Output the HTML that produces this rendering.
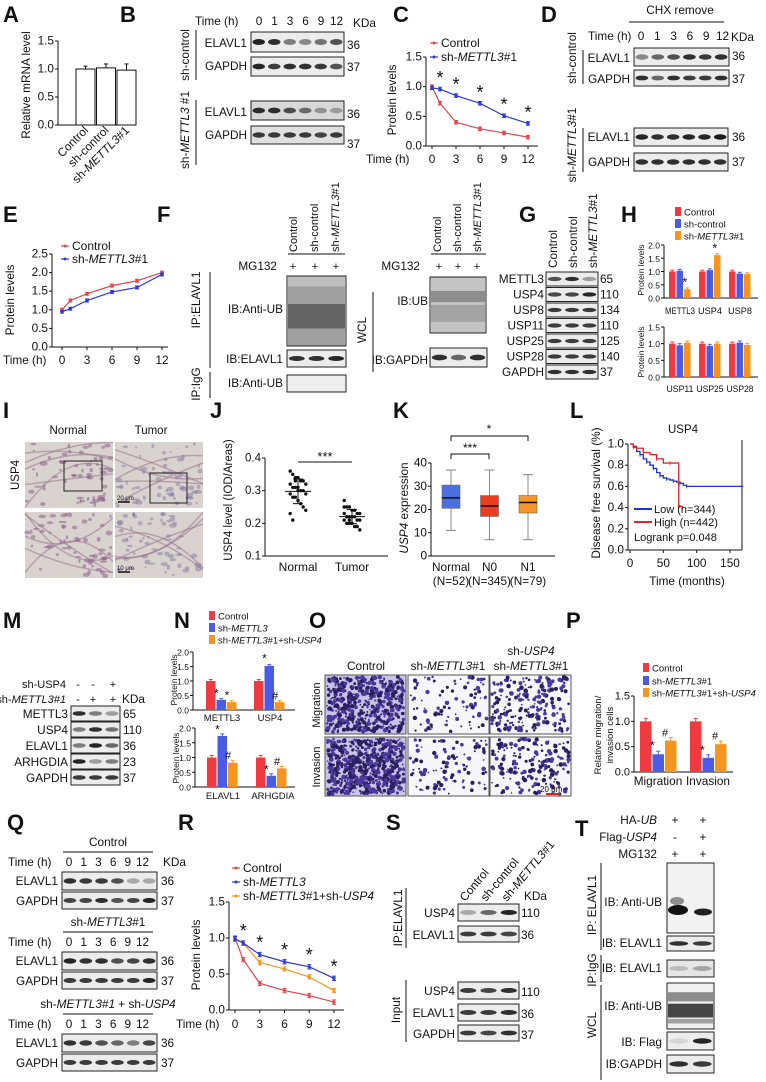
<!DOCTYPE html>
<html><head><meta charset="utf-8"><style>
html,body{margin:0;padding:0;background:#fff;}
svg{display:block;font-family:"Liberation Sans",Arial,sans-serif;}
</style></head><body>
<svg id="fig" width="766" height="1082" viewBox="0 0 766 1082" xmlns="http://www.w3.org/2000/svg"></svg>
<script>
// ---------- DATA ----------
const A_cats=['Control','sh-control','sh-METTL3#1'];
const A_vals=[1.0,1.02,0.98];
const A_errs=[0.05,0.07,0.11];
const C_times=[0,1,3,6,9,12];
const C_ctrl=[1.0,0.72,0.4,0.29,0.22,0.15];
const C_sh=[0.98,0.96,0.85,0.72,0.51,0.38];
const E_times=[0,1,3,6,9,12];
const E_ctrl=[1.0,1.25,1.43,1.65,1.78,2.0];
const E_sh=[0.95,1.03,1.25,1.48,1.6,1.95];
const H_top_cats=['METTL3','USP4','USP8'];
const H_top_ctrl=[1.0,1.0,1.0];
const H_top_shc=[1.03,1.05,0.92];
const H_top_shm=[0.33,1.62,0.9];
const H_bot_cats=['USP11','USP25','USP28'];
const H_bot_ctrl=[1.0,1.0,1.0];
const H_bot_shc=[0.95,0.93,1.03];
const H_bot_shm=[1.03,1.0,0.96];
const J_normal=[0.36,0.35,0.34,0.34,0.33,0.33,0.32,0.32,0.31,0.31,0.3,0.3,0.3,0.29,0.29,0.28,0.28,0.27,0.26,0.25,0.24,0.23,0.21,0.33,0.31];
const J_tumor=[0.27,0.25,0.25,0.24,0.24,0.23,0.23,0.23,0.22,0.22,0.22,0.22,0.21,0.21,0.21,0.2,0.2,0.2,0.19,0.19,0.18,0.25,0.22,0.21];
const K_cats=['Normal','N0','N1'];
const K_ns=['(N=52)','(N=345)','(N=79)'];
const K_min=[11,7,7];
const K_q1=[20.5,17,18.5];
const K_med=[25,21.5,23];
const K_q3=[30.5,26,26];
const K_max=[37,37,35];
const L_low_t=[0,5,10,15,20,25,30,35,40,45,50,55,60,65,70,75,80,85,170];
const L_low_s=[1,0.97,0.93,0.9,0.86,0.83,0.8,0.77,0.73,0.7,0.68,0.67,0.66,0.65,0.64,0.63,0.61,0.6,0.6];
const L_high_t=[0,5,10,20,30,40,50,60,73,73,80];
const L_high_s=[1,0.98,0.96,0.92,0.9,0.86,0.82,0.82,0.82,0.41,0.41];
const N_top_cats=['METTL3','USP4'];
const N_top_ctrl=[1.0,1.0];
const N_top_sh=[0.35,1.52];
const N_top_shu=[0.27,0.27];
const N_bot_cats=['ELAVL1','ARHGDIA'];
const N_bot_ctrl=[1.0,1.0];
const N_bot_sh=[1.73,0.38];
const N_bot_shu=[0.82,0.63];
const P_cats=['Migration','Invasion'];
const P_ctrl=[1.0,1.0];
const P_sh=[0.35,0.28];
const P_shu=[0.62,0.55];
const R_times=[0,1,3,6,9,12];
const R_ctrl=[1.0,0.7,0.37,0.27,0.2,0.11];
const R_sh=[0.99,0.93,0.77,0.67,0.6,0.44];
const R_shu=[0.98,0.93,0.66,0.57,0.46,0.27];

// ---------- HELPERS ----------
const NS='http://www.w3.org/2000/svg';
const S=document.getElementById('fig');
const RED='#ef3a3f',BLUE='#4a5be6',ORG='#f7941d',LRED='#e0474c',LBLUE='#2a3ad0';
function mk(tag,a,name,parent){
  const el=document.createElementNS(NS,tag);
  for(const k in a) el.setAttribute(k,a[k]);
  
  
  (parent||S).appendChild(el);
  return el;
}
const I=t=>'<tspan font-style="italic">'+t+'</tspan>';
function T(x,y,s,fs,anchor,name,rot,weight){
  fs=fs||10;
  if(fs==10.5) fs=11.8; else if(fs==10) fs=11;
  const el=mk('text',{x:x,y:y,'font-size':fs,'text-anchor':anchor||'start',fill:'#111'},name||'label');
  if(weight) el.setAttribute('font-weight',weight);
  el.innerHTML=s;
  if(rot) el.setAttribute('transform','rotate('+rot+' '+x+' '+y+')');
  return el;
}
function L(x1,y1,x2,y2,name,col,w){return mk('line',{x1:x1,y1:y1,x2:x2,y2:y2,stroke:col||'#111','stroke-width':w||1},name||'line');}
function letter(x,y,s){T(x,y,s,22,'start','panel-label-'+s.toLowerCase(),0,'bold');}
function blot(x,y,w,h,ints,name,bg){
  const g=mk('g',{},name);
  mk('rect',{x:x,y:y,width:w,height:h,fill:bg||'#ececec',stroke:'#222','stroke-width':1},name+'-frame',g);
  const n=ints.length;
  ints.forEach((v,i)=>{
    const cx=x+w*(i+0.5)/n;
    mk('ellipse',{cx:cx,cy:y+h/2,rx:w/n*0.4,ry:Math.max(1.6,h*0.15),fill:'rgba(15,15,15,'+v+')'},name+'-band',g);
  });
  return g;
}
function smear(x,y,w,h,name,dark){
  const g=mk('g',{},name);
  mk('rect',{x:x,y:y,width:w,height:h,fill:'#f0f0f0',stroke:'#222'},name+'-frame',g);
  dark.forEach(d=>{mk('rect',{x:x+1,y:y+d[0]*h,width:w-2,height:d[1]*h,fill:'rgba(40,40,40,'+d[2]+')'},name+'-smear',g);});
  return g;
}
function yAxis(x,ticks,sc,fmt,name,fs){
  const g=mk('g',{},name);
  g.appendChild(L(x,sc(ticks[ticks.length-1]),x,sc(ticks[0]),name+'-line'));
  ticks.forEach(t=>{
    g.appendChild(L(x-3,sc(t),x,sc(t),name+'-tick'));
    g.appendChild(T(x-4,sc(t)+3.5,fmt(t),fs||10,'end',name+'-tick-label'));
  });
  return g;
}
function errBar(cx,y1,y2,col,name){L(cx,y1,cx,y2,name,col,1);L(cx-2,y1,cx+2,y1,name,col,1);}
function groupedBars(cats,series,cols,x0,gw,bw,sc,y0,name,errs){
  cats.forEach((c,gi)=>{
    series.forEach((arr,si)=>{
      const bx=x0+gi*gw+si*bw;
      const v=arr[gi];
      mk('rect',{x:bx,y:sc(v),width:bw-1,height:y0-sc(v),fill:cols[si]},name+'-bar-'+c.toLowerCase()+'-'+si);
      const e=errs?errs:0.05;
      errBar(bx+(bw-1)/2,sc(v+e),sc(v),cols[si],name+'-error-bar');
    });
  });
}
function lineSeries(xs,ys,sx,sy,col,name,err){
  const pts=xs.map((t,i)=>sx(t)+','+sy(ys[i])).join(' ');
  mk('polyline',{points:pts,fill:'none',stroke:col,'stroke-width':1.2},name+'-line');
  xs.forEach((t,i)=>{
    mk('circle',{cx:sx(t),cy:sy(ys[i]),r:1.6,fill:col},name+'-point');
    L(sx(t),sy(ys[i]+err),sx(t),sy(ys[i]-err),name+'-error-bar',col,1);
    L(sx(t)-2,sy(ys[i]+err),sx(t)+2,sy(ys[i]+err),name+'-error-cap',col,1);
    L(sx(t)-2,sy(ys[i]-err),sx(t)+2,sy(ys[i]-err),name+'-error-cap',col,1);
  });
}
function legLine(x,y,col,s,name){L(x,y,x+8,y,name+'-swatch',col,1.2);mk('circle',{cx:x+4,cy:y,r:1.5,fill:col},name+'-swatch-dot');T(x+11,y+4,s,12,'start',name);}
function legBox(x,y,col,s,name,fs){mk('rect',{x:x,y:y-5,width:6,height:9,fill:col},name+'-swatch');T(x+9,y+3.5,s,fs||9,'start',name);}
let seed=7;function rnd(){seed=(seed*16807)%2147483647;return seed/2147483647;}

// ================= A =================
letter(3,22,'A');
{const ay=v=>125-v*56;
 yAxis(58,[0,0.5,1.0,1.5],ay,t=>t.toFixed(1),'a-y-axis',10.5);
 L(58,125,136,125,'a-x-axis');
 T(30,85,'Relative mRNA  level',10.5,'middle','a-y-axis-title',-90);
 A_cats.forEach((c,i)=>{
   const bx=76+i*20.5;
   mk('rect',{x:bx,y:ay(A_vals[i]),width:19,height:125-ay(A_vals[i]),fill:'#fff',stroke:'#111'},'a-bar-'+i);
   errBar(bx+9.5,ay(A_vals[i]+A_errs[i]),ay(A_vals[i]),'#111','a-error-bar');
   T(bx+13,131,i==2?'sh-'+I('METTL3')+'#1':c,10.5,'end','a-x-label',-45);
 });}

// ================= B =================
letter(120,22,'B');
T(195,25,'Time (h)',10.5,'start','b-time-label');
['0','1','3','6','9','12'].forEach((s,i)=>T(259+i*15.5,25,s,10.5,'middle','b-lane-label'));
T(353,27,'KDa',10.5,'start','b-kda-label');
T(189,55,'sh-control',10.5,'middle','b-group-sh-control',-90);
L(196,30,196,80,'b-bracket');
T(247,47,'ELAVL1',10.5,'end','b-row-elavl1');
blot(251,32,93,20,[0.9,0.85,0.5,0.45,0.55,0.7],'b-blot-elavl1-ctrl');
T(347,49,'36',10.5,'start','b-kda-36');
T(247,70,'GAPDH',10.5,'end','b-row-gapdh');
blot(251,57,93,19,[0.9,0.8,0.85,0.85,0.8,0.7],'b-blot-gapdh-ctrl');
T(347,71,'37',10.5,'start','b-kda-37');
T(189,130,'sh-'+I('METTL3')+' #1',10.5,'middle','b-group-sh-mettl3',-90);
L(196,100,196,165,'b-bracket-2');
T(247,116,'ELAVL1',10.5,'end','b-row-elavl1-2');
blot(251,101,93,19,[0.85,0.85,0.7,0.55,0.35,0.3],'b-blot-elavl1-sh','#d8d8d8');
T(347,118,'36',10.5,'start','b-kda-36-2');
T(247,139,'GAPDH',10.5,'end','b-row-gapdh-2');
blot(251,126,93,18,[0.8,0.8,0.8,0.8,0.75,0.8],'b-blot-gapdh-sh','#e0e0e0');
T(347,148,'37',10.5,'start','b-kda-37-2');

// ================= C =================
letter(393,22,'C');
{const cx=t=>432+t*8, cy=v=>146-v*(89/1.5);
 yAxis(426,[0,0.5,1.0,1.5],cy,t=>t.toFixed(1),'c-y-axis',10.5);
 L(426,146,538,146,'c-x-axis');
 C_times.filter(t=>t%3==0).forEach(t=>{L(cx(t),146,cx(t),149,'c-x-tick');T(cx(t),163,String(t),10.5,'middle','c-x-tick-label');});
 T(366,163,'Time (h)',10.5,'start','c-x-axis-title');
 T(396,100,'Protein levels',10.5,'middle','c-y-axis-title',-90);
 lineSeries(C_times,C_ctrl,cx,cy,LRED,'c-control',0.03);
 lineSeries(C_times,C_sh,cx,cy,LBLUE,'c-sh-mettl3',0.03);
 C_times.slice(1).forEach((t,i)=>T(cx(t),cy(C_sh[i+1])-5,'*',18,'middle','c-significance-star'));
 legLine(430,43,LRED,'Control','c-legend-control');
 legLine(430,57,LBLUE,'sh-'+I('METTL3')+'#1','c-legend-sh-mettl3');}

// ================= D =================
letter(541,22,'D');
T(680,14,'CHX remove',10.5,'middle','d-title');
L(629,22,724,22,'d-title-line');
T(588,40,'Time (h)',10.5,'start','d-time-label');
['0','1','3','6','9','12'].forEach((s,i)=>T(641+i*16.3,40,s,10.5,'middle','d-lane-label'));
T(731,41,'KDa',10.5,'start','d-kda-label');
T(576,58,'sh-control',10.5,'middle','d-group-sh-control',-90);
L(583,50,583,84,'d-bracket');
T(630,62,'ELAVL1',10.5,'end','d-row-elavl1');
blot(634,48,95,18,[0.45,0.6,0.7,0.85,0.8,0.85],'d-blot-elavl1-ctrl');
T(732,60,'36',10.5,'start','d-kda-36');
T(630,83,'GAPDH',10.5,'end','d-row-gapdh');
blot(634,70,95,16,[0.85,0.6,0.85,0.8,0.8,0.85],'d-blot-gapdh-ctrl');
T(732,83,'37',10.5,'start','d-kda-37');
T(576,145,'sh-'+I('METTL3')+'#1',10.5,'middle','d-group-sh-mettl3',-90);
L(583,128,583,172,'d-bracket-2');
T(630,141,'ELAVL1',10.5,'end','d-row-elavl1-2');
blot(634,128,94,18,[0.9,0.85,0.85,0.9,0.9,0.95],'d-blot-elavl1-sh');
T(732,141,'36',10.5,'start','d-kda-36-2');
T(630,166,'GAPDH',10.5,'end','d-row-gapdh-2');
blot(634,153,94,18,[0.85,0.85,0.85,0.85,0.85,0.85],'d-blot-gapdh-sh');
T(732,166,'37',10.5,'start','d-kda-37-2');

// ================= E =================
letter(3,222,'E');
{const ex=t=>62+t*100/12, ey=v=>347-v*(93/2.5);
 yAxis(52,[0,0.5,1.0,1.5,2.0,2.5],ey,t=>t.toFixed(1),'e-y-axis',10.5);
 L(52,347,168,347,'e-x-axis');
 E_times.filter(t=>t%3==0).forEach(t=>{L(ex(t),347,ex(t),350,'e-x-tick');T(ex(t),364,String(t),10.5,'middle','e-x-tick-label');});
 T(3,364,'Time (h)',10.5,'start','e-x-axis-title');
 T(14,300,'Protein levels',10.5,'middle','e-y-axis-title',-90);
 lineSeries(E_times,E_ctrl,ex,ey,LRED,'e-control',0.04);
 lineSeries(E_times,E_sh,ex,ey,LBLUE,'e-sh-mettl3',0.04);
 legLine(61,246,LRED,'Control','e-legend-control');
 legLine(61,259,LBLUE,'sh-'+I('METTL3')+'#1','e-legend-sh-mettl3');}

// ================= F =================
letter(157,222,'F');
['Control','sh-control','sh-'+I('METTL3')+'#1'].forEach((s,i)=>T(297+i*21,252,s,10,'start','f-ip-column-header',-90));
L(288,254,345,254,'f-header-line');
T(277,270,'MG132',10.5,'end','f-mg132-label');
[293,315,336].forEach(x=>T(x,270,'+',11,'middle','f-plus'));
T(200,300,'IP:ELAVL1',10.5,'middle','f-ip-elavl1-label',-90);
L(210,272,210,368,'f-ip-bracket');
T(283,313,'IB:Anti-UB',10.5,'end','f-ib-anti-ub-label');
smear(287,276,59,70,'f-blot-anti-ub',[[0,0.15,0.25],[0.15,0.25,0.4],[0.4,0.35,0.7],[0.75,0.25,0.4]]);
T(283,363,'IB:ELAVL1',10.5,'end','f-ib-elavl1-label');
blot(287,350,59,17,[0.85,0.85,0.9],'f-blot-elavl1');
T(200,384,'IP:IgG',10.5,'middle','f-ip-igg-label',-90);
L(210,372,210,398,'f-igg-bracket');
T(283,387,'IB:Anti-UB',10.5,'end','f-igg-anti-ub-label');
mk('rect',{x:287,y:375,width:59,height:17,fill:'#efefef',stroke:'#222'},'f-blot-igg');
['Control','sh-control','sh-'+I('METTL3')+'#1'].forEach((s,i)=>T(441+i*20,252,s,10,'start','f-wcl-column-header',-90));
L(431,254,486,254,'f-wcl-header-line');
T(420,270,'MG132',10.5,'end','f-wcl-mg132-label');
[439,458,477].forEach(x=>T(x,270,'+',11,'middle','f-wcl-plus'));
T(366,330,'WCL',10.5,'middle','f-wcl-label',-90);
L(373,292,373,372,'f-wcl-bracket');
T(428,305,'IB:UB',10.5,'end','f-ib-ub-label');
smear(430,277,56,56,'f-blot-ub',[[0,1,0.22],[0.25,0.2,0.35],[0.5,0.3,0.2]]);
T(428,364,'IB:GAPDH',10.5,'end','f-ib-gapdh-label');
blot(430,348,57,19,[0.85,0.6,0.85],'f-blot-gapdh');

// ================= G =================
letter(519,222,'G');
['Control','sh-control','sh-'+I('METTL3')+'#1'].forEach((s,i)=>T(557+i*20,268,s,10.5,'start','g-column-header',-90));
{const rows=[['METTL3','65',[0.7,0.85,0.35]],['USP4','110',[0.75,0.75,0.9]],['USP8','134',[0.8,0.8,0.8]],['USP11','110',[0.8,0.8,0.8]],['USP25','125',[0.8,0.8,0.8]],['USP28','140',[0.8,0.8,0.8]],['GAPDH','37',[0.85,0.85,0.85]]];
 rows.forEach((r,i)=>{const y=272+i*15.5;
   T(544,y+11,r[0],10.5,'end','g-row-'+r[0].toLowerCase());
   blot(546,y,52,14,r[2],'g-blot-'+r[0].toLowerCase());
   T(600,y+11,r[1],10.5,'start','g-kda-'+r[1]);
 });}

// ================= H =================
letter(621,222,'H');
legBox(675,212,RED,'Control','h-legend-control',9.5);
legBox(675,224,BLUE,'sh-control','h-legend-sh-control',9.5);
legBox(675,236,ORG,'sh-'+I('METTL3')+'#1','h-legend-sh-mettl3',9.5);
{const hy=v=>298-v*26.5;
 yAxis(664,[0,0.5,1.0,1.5,2.0],hy,t=>t.toFixed(1),'h-top-y-axis',8.5);
 L(664,298,758,298,'h-top-x-axis');
 groupedBars(H_top_cats,[H_top_ctrl,H_top_shc,H_top_shm],[RED,BLUE,ORG],669,30,7.5,hy,298,'h-top',0.05);
 H_top_cats.forEach((c,i)=>{const t=T(680+i*30,314,c,9,'middle','h-top-x-label');t.setAttribute('textLength',c.length>4?30:24);t.setAttribute('lengthAdjust','spacingAndGlyphs');});
 T(669+15.75,hy(H_top_shm[0])-3,'*',13,'middle','h-star');
 T(699+15.75,hy(H_top_shm[1]+0.05)-1,'*',13,'middle','h-star');
 T(644,270,'Protein levels',8.5,'middle','h-top-y-title',-90);
 const hy2=v=>377-v*(50/1.5);
 yAxis(664,[0,0.5,1.0,1.5],hy2,t=>t.toFixed(1),'h-bot-y-axis',8.5);
 L(664,377,758,377,'h-bot-x-axis');
 groupedBars(H_bot_cats,[H_bot_ctrl,H_bot_shc,H_bot_shm],[RED,BLUE,ORG],669,30,7.5,hy2,377,'h-bot',0.05);
 H_bot_cats.forEach((c,i)=>{const t=T(680+i*30,392,c,9,'middle','h-bot-x-label');t.setAttribute('textLength',27);t.setAttribute('lengthAdjust','spacingAndGlyphs');});
 T(644,352,'Protein levels',8.5,'middle','h-bot-y-title',-90);}

// ================= I =================
letter(3,418,'I');
T(68,434,'Normal',11.5,'middle','i-normal-title');
T(151,434,'Tumor',11.5,'middle','i-tumor-title');
T(19,475,'USP4',11.5,'middle','i-usp4-label',-90);
[[25,442,'n'],[115,442,'t'],[25,512,'n'],[115,512,'t']].forEach((p,k)=>{
  const g=mk('g',{},'i-ihc-image-'+k);
  mk('rect',{x:p[0],y:p[1],width:88,height:66,fill:'#d9d3cf'},'i-image-bg',g);
  for(let j=0;j<60;j++){const x=p[0]+rnd()*84+2,y=p[1]+rnd()*62+2;
    mk('ellipse',{cx:x,cy:y,rx:1+rnd()*3,ry:1+rnd()*1.5,fill:p[2]=='n'?'rgba(120,70,120,0.45)':'rgba(110,100,150,0.4)'},'i-cell',g);}
  for(let j=0;j<5;j++){mk('path',{d:'M'+p[0]+' '+(p[1]+rnd()*66)+' Q'+(p[0]+44)+' '+(p[1]+rnd()*66)+' '+(p[0]+88)+' '+(p[1]+rnd()*66),fill:'none',stroke:'rgba(150,110,140,0.5)','stroke-width':1.5},'i-tissue-fold',g);}
});
mk('rect',{x:64,y:461,width:38,height:30,fill:'none',stroke:'#222'},'i-zoom-box-normal');
mk('rect',{x:150,y:473,width:37,height:30,fill:'none',stroke:'#222'},'i-zoom-box-tumor');
T(117,500,'20 μm',6,'start','i-scale-20um');L(118,502,130,502,'i-scale-bar',null,1.5);
T(117,570,'10 μm',6,'start','i-scale-10um');L(118,572,130,572,'i-scale-bar-2',null,1.5);

// ================= J =================
letter(210,418,'J');
{const jy=v=>556-(v-0.1)*(98/0.3);
 yAxis(265,[0.1,0.2,0.3,0.4],jy,t=>t.toFixed(1),'j-y-axis',11.5);
 L(265,556,388,556,'j-x-axis');
 T(298,571,'Normal',12,'middle','j-x-label-normal');
 T(352,571,'Tumor',12,'middle','j-x-label-tumor');
 T(232,500,'USP4 level (IOD/Areas)',11.5,'middle','j-y-axis-title',-90);
 [[J_normal,298],[J_tumor,352]].forEach((d,gi)=>{
   const arr=d[0],cx=d[1];
   arr.forEach((v,i)=>mk('circle',{cx:cx+((i%7)-3)*2.6,cy:jy(v),r:1.7,fill:'#111'},'j-point'));
   const m=arr.reduce((a,b)=>a+b,0)/arr.length;
   const sd=Math.sqrt(arr.reduce((a,b)=>a+(b-m)*(b-m),0)/arr.length);
   L(cx-13,jy(m),cx+13,jy(m),'j-mean-line');
   L(cx,jy(m-sd),cx,jy(m+sd),'j-sd-line');
   L(cx-5,jy(m+sd),cx+5,jy(m+sd),'j-sd-cap');L(cx-5,jy(m-sd),cx+5,jy(m-sd),'j-sd-cap');
 });
 L(298,462,352,462,'j-significance-line');
 T(325,461,'***',13,'middle','j-significance');}

// ================= K =================
letter(393,418,'K');
{const ky=v=>556-v*(93/40), cols=['#4a6fe0','#ee3c1e','#f4962a'];
 yAxis(431,[0,10,20,30,40],ky,t=>String(t),'k-y-axis',10.5);
 L(431,556,555,556,'k-x-axis');
 T(408,508,'<tspan font-style="italic">USP4</tspan> expression',10.5,'middle','k-y-axis-title',-90);
 K_cats.forEach((c,i)=>{const cx=451+i*38.5;
   L(cx,ky(K_max[i]),cx,ky(K_min[i]),'k-whisker',"#888");
   L(cx-5,ky(K_max[i]),cx+5,ky(K_max[i]),'k-whisker-cap','#888');L(cx-5,ky(K_min[i]),cx+5,ky(K_min[i]),'k-whisker-cap','#888');
   mk('rect',{x:cx-9,y:ky(K_q3[i]),width:18,height:ky(K_q1[i])-ky(K_q3[i]),fill:cols[i],stroke:'#666','stroke-width':0.6},'k-box-'+c.toLowerCase());
   L(cx-9,ky(K_med[i]),cx+9,ky(K_med[i]),'k-median',"#111",1.5);
   T(cx,571,c,10.5,'middle','k-x-label');T(cx,585,K_ns[i],10.5,'middle','k-n-label');
 });
 mk('polyline',{points:'451,459 451,454 489,454 489,459',fill:'none',stroke:'#111'},'k-bracket-n0');
 T(470,452,'***',12,'middle','k-sig-n0');
 mk('polyline',{points:'451,441 451,436 528,436 528,441',fill:'none',stroke:'#111'},'k-bracket-n1');
 T(489,433,'*',12,'middle','k-sig-n1');}

// ================= L =================
letter(570,418,'L');
{const lx=m=>630+m*(100/150), ly=s=>550-s*106;
 yAxis(628,[0,0.2,0.4,0.6,0.8,1.0],ly,t=>t.toFixed(1),'l-y-axis',10.5);
 L(628,550,742,550,'l-x-axis');L(742,440,742,550,'l-right-border');
 [0,50,100,150].forEach(t=>{L(lx(t),550,lx(t),553,'l-x-tick');T(lx(t),567,String(t),10.5,'middle','l-x-tick-label');});
 T(687,585,'Time (months)',10.5,'middle','l-x-axis-title');
 T(600,493,'Disease free survival (%)',10.5,'middle','l-y-axis-title',-90);
 T(683,433,'USP4',11.5,'middle','l-title');
 function step(ts,ss,col,name){let d='M'+lx(ts[0])+' '+ly(ss[0]);
   for(let i=1;i<ts.length;i++){d+=' H'+lx(ts[i])+' V'+ly(ss[i]);}
   mk('path',{d:d,fill:'none',stroke:col,'stroke-width':1.3},name);
   ts.forEach((t,i)=>{if(i%2==1)L(lx(t),ly(ss[i])-2,lx(t),ly(ss[i])+2,name+'-censor',col,0.8);});}
 step(L_low_t,L_low_s,'#2234c8','l-curve-low');
 step(L_high_t,L_high_s,'#e3262c','l-curve-high');
 L(634,509,652,509,'l-legend-low-line','#2234c8',2);T(654,513,'Low (n=344)',10,'start','l-legend-low');
 L(634,522,652,522,'l-legend-high-line','#e3262c',2);T(654,526,'High (n=442)',10,'start','l-legend-high');
 T(634,541,'Logrank p=0.048',10,'start','l-logrank');}

// ================= M =================
letter(3,628,'M');
T(66,688,'sh-USP4',10,'end','m-sh-usp4-label');
[78,93,113].forEach((x,i)=>T(x,688,i==2?'+':'-',10,'middle','m-sh-usp4-sign'));
T(66,703,'sh-'+I('METTL3#1'),10,'end','m-sh-mettl3-label');
[78,93,113].forEach((x,i)=>T(x,703,i==0?'-':'+',10,'middle','m-sh-mettl3-sign'));
T(122,703,'KDa',10.5,'start','m-kda-label');
{const rows=[['METTL3','65',[0.85,0.5,0.35]],['USP4','110',[0.5,0.85,0.55]],['ELAVL1','36',[0.5,0.9,0.6]],['ARHGDIA','23',[0.9,0.35,0.5]],['GAPDH','37',[0.8,0.8,0.8]]];
 rows.forEach((r,i)=>{const y=706+i*16;
   T(68,y+12,r[0],10.5,'end','m-row-'+r[0].toLowerCase());
   blot(71,y,49,15,r[2],'m-blot-'+r[0].toLowerCase());
   T(123,y+12,r[1],10.5,'start','m-kda-'+r[1]);});}

// ================= N =================
letter(174,628,'N');
legBox(209,616,RED,'Control','n-legend-control',9.5);
legBox(209,628,BLUE,'sh-'+I('METTL3'),'n-legend-sh-mettl3',9.5);
legBox(209,640,ORG,'sh-'+I('METTL3')+'#1+sh-'+I('USP4'),'n-legend-sh-mettl3-sh-usp4',9.5);
{const ny=v=>710-v*29;
 yAxis(193,[0,0.5,1.0,1.5,2.0],ny,t=>t.toFixed(1),'n-top-y-axis',8.5);
 L(193,710,295,710,'n-top-x-axis');
 groupedBars(N_top_cats,[N_top_ctrl,N_top_sh,N_top_shu],[RED,BLUE,ORG],206,48,10.5,ny,710,'n-top',0.05);
 N_top_cats.forEach((c,i)=>T(222+i*48,721,c,9.5,'middle','n-top-x-label'));
 T(216.5,ny(0.4)-1,'*',12,'middle','n-star');T(227,ny(0.32)-1,'*',12,'middle','n-star');
 T(264.5,ny(1.6)-1,'*',12,'middle','n-star');T(275,ny(0.32)-1,'#',11,'middle','n-hash');
 T(177,680,'Protein levels',8.5,'middle','n-top-y-title',-90);
 const ny2=v=>787-v*29.5;
 yAxis(195,[0,0.5,1.0,1.5,2.0],ny2,t=>t.toFixed(1),'n-bot-y-axis',8.5);
 L(195,787,295,787,'n-bot-x-axis');
 groupedBars(N_bot_cats,[N_bot_ctrl,N_bot_sh,N_bot_shu],[RED,BLUE,ORG],207,49,10.5,ny2,787,'n-bot',0.07);
 N_bot_cats.forEach((c,i)=>T(223+i*50,799,c,9.5,'middle','n-bot-x-label'));
 T(217.5,ny2(1.78)-1,'*',12,'middle','n-star');T(228,ny2(0.92)-1,'#',11,'middle','n-hash');
 T(266.5,ny2(0.43)-1,'*',12,'middle','n-star');T(277,ny2(0.71)-1,'#',11,'middle','n-hash');
 T(179,758,'Protein levels',8.5,'middle','n-bot-y-title',-90);}

// ================= O =================
letter(309,628,'O');
T(366,670,'Control',10.5,'middle','o-col-control');
T(448,670,'sh-'+I('METTL3')+'#1',10.5,'middle','o-col-sh-mettl3');
T(531,655,'sh-'+I('USP4'),10.5,'middle','o-col-sh-usp4-top');
T(531,670,'sh-'+I('METTL3')+'#1',10.5,'middle','o-col-sh-mettl3-2');
T(320,705,'Migration',10,'middle','o-row-migration',-90);
T(320,767,'Invasion',10,'middle','o-row-invasion',-90);
[[325,675,500],[408,675,90],[490,675,220],[325,737,650],[408,737,100],[490,737,180]].forEach((p,k)=>{
  const g=mk('g',{},'o-transwell-image-'+k);
  mk('rect',{x:p[0],y:p[1],width:81,height:59,fill:k%3==0?'#c9c3e6':'#f7f6fb',stroke:'#555'},'o-image-bg',g);
  for(let j=0;j<p[2];j++){mk('circle',{cx:p[0]+2+rnd()*77,cy:p[1]+2+rnd()*55,r:0.8+rnd()*1.5,fill:rnd()<0.5?'#4b3a9c':'#2a1f5e'},'o-cell',g);}
});
L(546,794,560,794,'o-scale-bar','#e02020',2);T(540,792,'20 μm',8,'start','o-scale-label');

// ================= P =================
letter(566,628,'P');
legBox(643,668,RED,'Control','p-legend-control',9.5);
legBox(643,681,BLUE,'sh-'+I('METTL3')+'#1','p-legend-sh-mettl3',9.5);
legBox(643,693,ORG,'sh-'+I('METTL3')+'#1+sh-'+I('USP4'),'p-legend-sh-mettl3-sh-usp4',9.5);
{const py=v=>772-v*(76/1.5);
 yAxis(634,[0,0.5,1.0,1.5],py,t=>t.toFixed(1),'p-y-axis',10);
 L(634,772,733,772,'p-x-axis');
 groupedBars(P_cats,[P_ctrl,P_sh,P_shu],[RED,BLUE,ORG],640,50,12.5,py,772,'p',0.06);
 P_cats.forEach((c,i)=>T(658+i*50,785,c,10.5,'middle','p-x-label'));
 T(652.5,py(0.42)-1,'*',12,'middle','p-star');T(665,py(0.68)-1,'#',11,'middle','p-hash');
 T(702.5,py(0.34)-1,'*',12,'middle','p-star');T(715,py(0.62)-1,'#',11,'middle','p-hash');
 T(601,735,'Relative migration/',9.5,'middle','p-y-title-1',-90);
 T(613,735,'invasion cells',9.5,'middle','p-y-title-2',-90);}

// ================= Q =================
letter(7,830,'Q');
function qBlock(y0,title,name,e,gd){
  T(108,y0,title,10.5,'middle',name+'-title');
  L(63,y0+6,153,y0+6,name+'-title-line');
  T(8,y0+20,'Time (h)',10.5,'start',name+'-time-label');
  ['0','1','3','6','9','12'].forEach((s,i)=>T(69+i*14.7,y0+20,s,10.5,'middle',name+'-lane-label'));
  T(58,y0+39,'ELAVL1',10.5,'end',name+'-row-elavl1');
  blot(62,y0+26,95,18,e,name+'-blot-elavl1');
  T(161,y0+39,'36',10.5,'start',name+'-kda-36');
  T(58,y0+59,'GAPDH',10.5,'end',name+'-row-gapdh');
  blot(62,y0+46,95,17,gd,name+'-blot-gapdh');
  T(161,y0+59,'37',10.5,'start',name+'-kda-37');
}
qBlock(846,'Control','q-control',[0.85,0.8,0.8,0.7,0.3,0.3],[0.75,0.75,0.85,0.7,0.75,0.9]);
T(163,866,'KDa',10.5,'start','q-kda-label');
qBlock(926,'sh-'+I('METTL3')+'#1','q-sh-mettl3',[0.9,0.85,0.85,0.7,0.75,0.85],[0.8,0.8,0.8,0.8,0.8,0.9]);
qBlock(1008,'sh-'+I('METTL3#1')+' + sh-'+I('USP4'),'q-sh-mettl3-sh-usp4',[0.85,0.8,0.7,0.6,0.5,0.75],[0.8,0.8,0.8,0.8,0.8,0.8]);

// ================= R =================
letter(178,830,'R');
{const rx=t=>235+t*99/12, ry=v=>1010-v*72;
 yAxis(229,[0,0.5,1.0,1.5],ry,t=>t.toFixed(1),'r-y-axis',10.5);
 L(229,1010,344,1010,'r-x-axis');
 R_times.filter(t=>t%3==0).forEach(t=>{L(rx(t),1010,rx(t),1013,'r-x-tick');T(rx(t),1028,String(t),10.5,'middle','r-x-tick-label');});
 T(176,1028,'Time (h)',10.5,'start','r-x-axis-title');
 T(200,955,'Protein levels',10.5,'middle','r-y-axis-title',-90);
 lineSeries(R_times,R_ctrl,rx,ry,LRED,'r-control',0.03);
 lineSeries(R_times,R_shu,rx,ry,ORG,'r-sh-mettl3-sh-usp4',0.03);
 lineSeries(R_times,R_sh,rx,ry,LBLUE,'r-sh-mettl3',0.03);
 R_times.slice(1).forEach((t,i)=>T(rx(t),ry(R_sh[i+1])-6,'*',18,'middle','r-significance-star'));
 legLine(232,868,LRED,'Control','r-legend-control');
 legLine(232,882,LBLUE,'sh-'+I('METTL3'),'r-legend-sh-mettl3');
 legLine(232,896,ORG,'sh-'+I('METTL3')+'#1+sh-'+I('USP4'),'r-legend-sh-mettl3-sh-usp4');}

// ================= S =================
letter(386,830,'S');
['Control','sh-control','sh-'+I('METTL3')+'#1'].forEach((s,i)=>T(465+i*21,902,s,10.5,'start','s-column-header',-50));
T(524,900,'KDa',10.5,'start','s-kda-label');
T(402,918,'IP:ELAVL1',10.5,'middle','s-ip-label',-90);
L(406,888,406,948,'s-ip-bracket');
T(455,917,'USP4',10.5,'end','s-row-usp4');blot(458,904,61,17,[0.3,0.6,0.9],'s-blot-usp4');T(521,917,'110',10.5,'start','s-kda-110');
T(455,939,'ELAVL1',10.5,'end','s-row-elavl1');blot(458,926,61,16,[0.8,0.8,0.75],'s-blot-elavl1');T(521,939,'36',10.5,'start','s-kda-36');
T(400,1010,'Input',10.5,'middle','s-input-label',-90);
L(406,980,406,1042,'s-input-bracket');
T(455,995,'USP4',10.5,'end','s-input-row-usp4');blot(458,982,61,17,[0.8,0.75,0.85],'s-input-blot-usp4');T(521,996,'110',10.5,'start','s-input-kda-110');
T(455,1017,'ELAVL1',10.5,'end','s-input-row-elavl1');blot(458,1004,61,17,[0.8,0.8,0.85],'s-input-blot-elavl1');T(521,1018,'36',10.5,'start','s-input-kda-36');
T(455,1038,'GAPDH',10.5,'end','s-input-row-gapdh');blot(458,1025,61,16,[0.8,0.75,0.85],'s-input-blot-gapdh');T(521,1039,'37',10.5,'start','s-input-kda-37');

// ================= T =================
letter(575,836,'T');
T(657,824,'HA-'+I('UB'),10.5,'end','t-ha-ub-label');
T(657,841,'Flag-'+I('USP4'),10.5,'end','t-flag-usp4-label');
T(657,858,'MG132',10.5,'end','t-mg132-label');
[['+','+'],['-','+'],['+','+']].forEach((r,j)=>{T(675,824+j*17,r[0],10.5,'middle','t-sign');T(703,824+j*17,r[1],10.5,'middle','t-sign');});
T(596,905,'IP: ELAVL1',10.5,'middle','t-ip-elavl1-label',-90);
L(601,863,601,950,'t-ip-bracket');
T(662,906,'IB: Anti-UB',10.5,'end','t-ib-anti-ub-label');
{const g=mk('g',{},'t-blot-anti-ub');
 mk('rect',{x:667,y:863,width:47,height:70,fill:'#f2f2f2',stroke:'#222'},'t-blot-anti-ub-frame',g);
 mk('ellipse',{cx:678,cy:910,rx:10,ry:5,fill:'#111'},'t-band',g);
 mk('ellipse',{cx:677,cy:901,rx:7,ry:4,fill:'rgba(40,40,40,0.5)'},'t-band',g);
 mk('ellipse',{cx:703,cy:912,rx:9,ry:3.5,fill:'#222'},'t-band',g);}
T(662,947,'IB: ELAVL1',10.5,'end','t-ib-elavl1-label');blot(667,936,47,15,[0.85,0.8],'t-blot-elavl1');
T(596,970,'IP:IgG',10.5,'middle','t-ip-igg-label',-90);
L(601,955,601,982,'t-igg-bracket');
T(662,972,'IB: ELAVL1',10.5,'end','t-igg-ib-elavl1-label');blot(667,960,47,17,[0.2,0.3],'t-blot-igg-elavl1','#e6e6e6');
T(596,1025,'WCL',10.5,'middle','t-wcl-label',-90);
L(601,985,601,1080,'t-wcl-bracket');
T(662,1010,'IB: Anti-UB',10.5,'end','t-wcl-anti-ub-label');
smear(667,983,47,46,'t-blot-wcl-anti-ub',[[0.2,0.2,0.5],[0.45,0.3,0.85],[0.78,0.1,0.4]]);
T(662,1046,'IB: Flag',10.5,'end','t-ib-flag-label');blot(667,1032,47,18,[0.1,0.9],'t-blot-flag');
T(662,1068,'IB:GAPDH',10.5,'end','t-ib-gapdh-label');blot(667,1055,47,18,[0.85,0.8],'t-blot-gapdh');
</script>
</body></html>
